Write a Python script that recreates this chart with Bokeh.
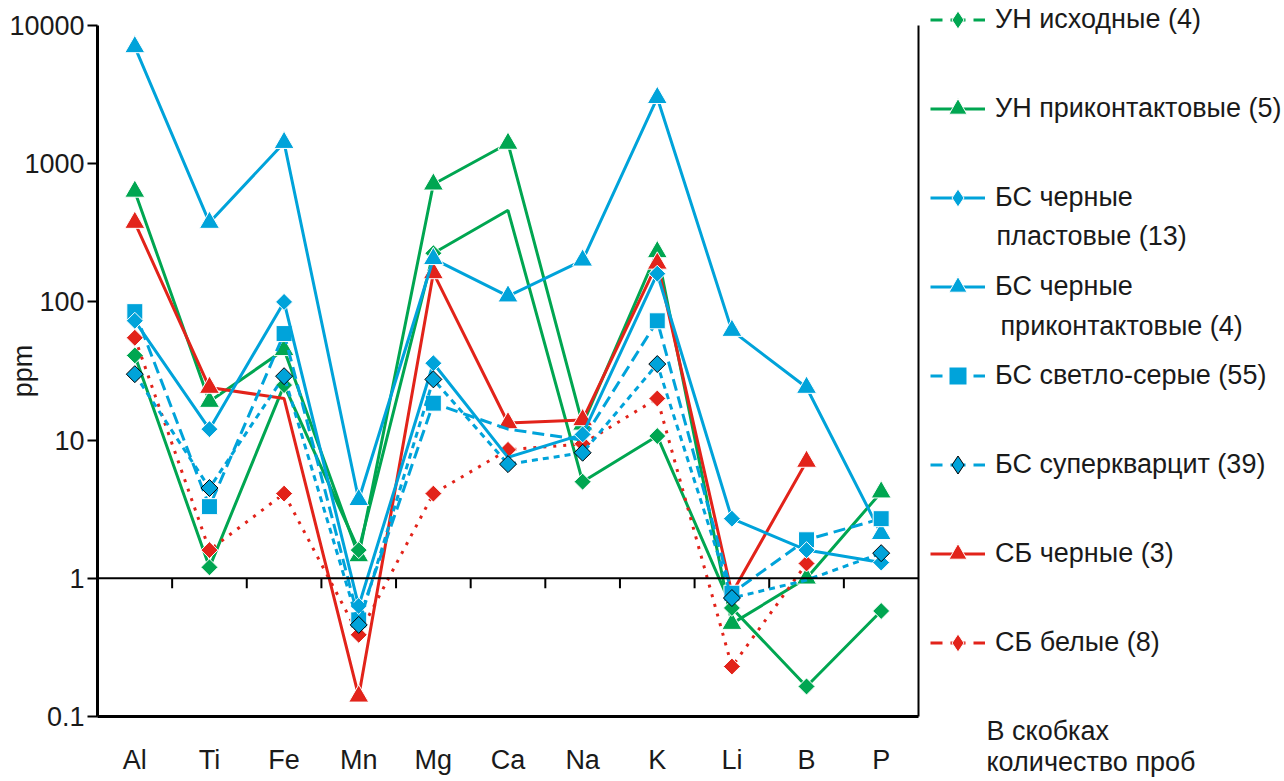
import numpy as np
from bokeh.plotting import figure
from bokeh.layouts import row
from bokeh.models import (FixedTicker, CustomJSTickFormatter, LogAxis, Span, Label,
                          Legend, LegendItem, Range1d)
from bokeh.embed import file_html
from bokeh.resources import INLINE

# ---------------- data ----------------
categories = ["Al", "Ti", "Fe", "Mn", "Mg", "Ca", "Na", "K", "Li", "B", "P"]

un_isx = [41, 1.2, 25, 1.6, 225, 460, 5.0, 10.7, 0.61, 0.165, 0.58]
un_prik = [630, 19, 45, 1.45, 710, 1400, 13, 230, 0.47, 1.0, 4.2]
bs_plast = [73, 12, 100, 0.63, 36, 7.5, 11, 160, 2.7, 1.6, 1.3]
bs_prik = [7000, 375, 1420, 3.7, 205, 110, 200, 3000, 62, 24, 2.1]
bs_svetlo = [85, 3.3, 59, 0.50, 18.5, 12, 10, 73, 0.78, 1.9, 2.7]
bs_super = [30, 4.5, 29, 0.46, 27.5, 6.7, 8.1, 35.5, 0.72, 0.97, 1.52]
sb_black = [375, 24, 20, 0.14, 162, 13.3, 14, 190, 0.78, 7.0, np.nan]
sb_white = [55, 1.6, 4.1, 0.39, 4.1, 8.5, 9.4, 20, 0.23, 1.28, np.nan]

legend_labels = ["УН исходные (4)", "УН приконтактовые (5)", "БС черные",
                 "БС черные", "БС светло-серые (55)", "БС суперкварцит (39)",
                 "СБ черные (3)", "СБ белые (8)"]
legend_second_lines = ["пластовые (13)", "приконтактовые (4)"]
footer_lines = ["В скобках", "количество проб"]
y_ticks = [0.1, 1, 10, 100, 1000, 10000]
y_label = "ppm"

# ---------------- styles ----------------
GREEN = "#00a651"
BLUE = "#00a3da"
RED = "#e2231a"
TXT = "#1a1a1a"
FONT = "Liberation Sans"
FS = "27px"
LEG_DASH = "12 8 15 8 12 0"

# (values, color, marker, plot dash, legend dash, marker edge, hidden marker cats, legend index)
series = [
    (un_prik, GREEN, "triangle", "solid", "solid", "white", [], 1),
    (un_isx, GREEN, "diamond", "solid", LEG_DASH, "white", ["Ca"], 0),
    (sb_black, RED, "triangle", "solid", "solid", "white", ["Fe", "Li"], 6),
    (sb_white, RED, "diamond", "3 7", LEG_DASH, "white", [], 7),
    (bs_prik, BLUE, "triangle", "solid", "solid", "white", [], 3),
    (bs_svetlo, BLUE, "square", "12 6", LEG_DASH, "white", ["Ca", "Na"], 4),
    (bs_plast, BLUE, "diamond", "solid", "solid", "white", ["Ca"], 2),
    (bs_super, BLUE, "diamond", "6 5", LEG_DASH, "black", ["B"], 5),
]

MAIN_W, H = 920, 781
p = figure(width=MAIN_W, height=H, output_backend="svg", toolbar_location=None,
           y_axis_type="log", x_range=Range1d(-0.5, len(categories) - 0.5),
           y_range=Range1d(0.1, 10000),
           min_border_left=97, min_border_right=2, min_border_top=25,
           min_border_bottom=65)
p.outline_line_color = None
p.grid.visible = False
p.frame_align = False

xs = np.arange(len(categories))

# reference line at 1 with category-boundary ticks
p.add_layout(Span(location=1, dimension="width", line_color="black", line_width=2))
bnd = xs[:-1] + 0.5
p.segment(x0=bnd, y0=np.ones(len(bnd)), x1=bnd, y1=np.full(len(bnd), 0.846),
          line_color="black", line_width=2)

for vals, color, marker, dash, ldash, edge, hidden, li in series:
    v = np.array(vals, dtype=float)
    ok = ~np.isnan(v)
    p.line(xs[ok], v[ok], line_color=color, line_width=3, line_dash=dash)
    m = ok & np.array([c not in hidden for c in categories])
    if marker == "diamond":
        p.scatter(xs[m], v[m], marker="square", angle=np.pi / 4, size=12,
                  fill_color=color, line_color=edge, line_width=1)
    elif marker == "triangle":
        p.scatter(xs[m], v[m], marker="triangle", size=20,
                  fill_color=color, line_color=edge, line_width=1)
    else:
        p.scatter(xs[m], v[m], marker="square", size=16,
                  fill_color=color, line_color=edge, line_width=1)

# axes
p.xaxis.ticker = FixedTicker(ticks=list(xs))
p.xaxis.formatter = CustomJSTickFormatter(args=dict(names=categories),
                                          code="return names[Math.round(tick)] || '';")
p.xaxis.major_tick_line_color = None
p.xaxis.minor_tick_line_color = None
p.xaxis.axis_line_width = 3
p.xaxis.axis_line_color = "black"
p.xaxis.major_label_text_font = FONT
p.xaxis.major_label_text_font_size = FS
p.xaxis.major_label_text_color = TXT
p.xaxis.major_label_standoff = 22

p.yaxis.ticker = FixedTicker(ticks=y_ticks)
p.yaxis.formatter = CustomJSTickFormatter(
    code="return tick < 1 ? tick.toFixed(1) : tick.toFixed(0);")
p.yaxis.minor_tick_line_color = None
p.yaxis.major_tick_in = 0
p.yaxis.major_tick_out = 10
p.yaxis.major_tick_line_width = 2
p.yaxis.axis_line_width = 3
p.yaxis.major_label_text_font = FONT
p.yaxis.major_label_text_font_size = FS
p.yaxis.major_label_text_color = TXT
p.yaxis.major_label_standoff = 3
p.yaxis.axis_label = y_label
p.yaxis.axis_label_text_font = FONT
p.yaxis.axis_label_text_font_size = FS
p.yaxis.axis_label_text_font_style = "normal"
p.yaxis.axis_label_text_color = TXT
p.yaxis.axis_label_standoff = -32

right_ax = LogAxis(ticker=FixedTicker(ticks=[]), axis_line_width=2,
                   major_tick_line_color=None, minor_tick_line_color=None,
                   major_label_text_font_size="0px")
p.add_layout(right_ax, "right")

# ---------------- legend panel ----------------
LW = 1284 - MAIN_W
lf = figure(width=LW, height=H, output_backend="svg", toolbar_location=None,
            x_range=Range1d(0, LW), y_range=Range1d(0, H),
            x_axis_location=None, y_axis_location=None, min_border=0)
lf.outline_line_color = None
lf.grid.visible = False
lf.frame_align = False

legend_renderers = [None] * 8
for vals, color, marker, dash, ldash, edge, hidden, li in series:
    # sample glyphs only (data point lies outside the visible range)
    dl = lf.line([-1000, -990], [-1000, -1000], line_color=color, line_width=3,
                 line_dash=ldash)
    ds = lf.scatter([-1000], [-1000], marker=marker, size=18, fill_color=color,
                    line_color=edge, line_width=1)
    legend_renderers[li] = [dl, ds]

items = [LegendItem(label=legend_labels[i], renderers=legend_renderers[i]) for i in range(8)]
legend = Legend(items=items, location=(10, 116), orientation="vertical",
                glyph_width=55, glyph_height=45, label_height=45, spacing=44,
                label_standoff=10, padding=0, margin=0,
                border_line_alpha=0, background_fill_alpha=0,
                label_text_font=FONT, label_text_font_size=FS,
                label_text_color=TXT)
lf.add_layout(legend, "center")

for txt, (lx, ly) in zip(legend_second_lines, [(76, 546), (80, 456)]):
    lf.add_layout(Label(x=lx, y=ly, x_units="screen", y_units="screen", text=txt,
                        text_baseline="middle", text_font=FONT, text_font_size=FS,
                        text_color=TXT))
for txt, (lx, ly) in zip(footer_lines, [(66, 51), (66, 20)]):
    lf.add_layout(Label(x=lx, y=ly, x_units="screen", y_units="screen", text=txt,
                        text_baseline="middle", text_font=FONT, text_font_size=FS,
                        text_color=TXT))

layout = row(p, lf)
open("out.html", "w").write(file_html(layout, INLINE))
